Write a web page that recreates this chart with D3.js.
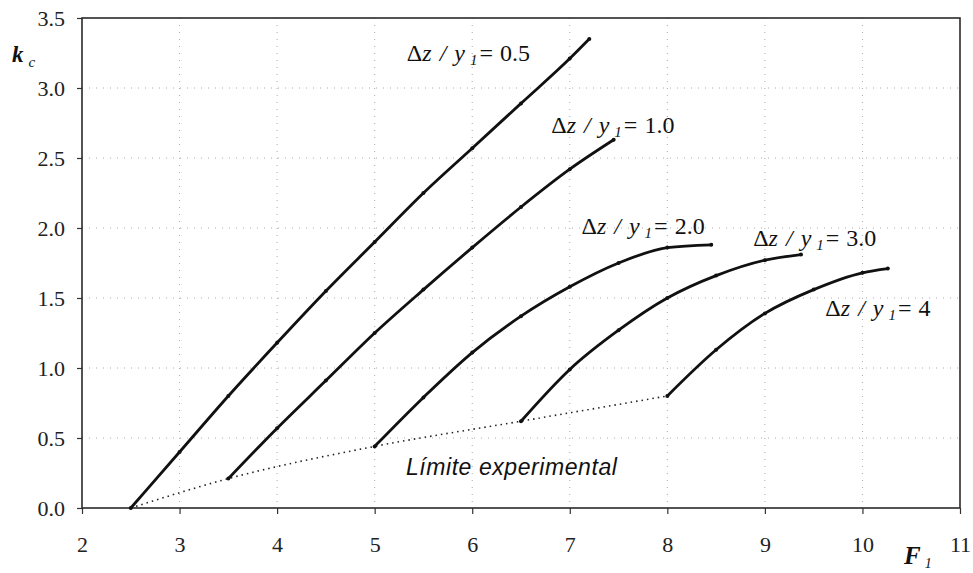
<!DOCTYPE html>
<html>
<head>
<meta charset="utf-8">
<script src="https://cdn.jsdelivr.net/npm/d3@7"></script>
<style>
  html, body { margin: 0; padding: 0; background: #fff; }
  svg { display: block; font-family: "Liberation Serif", "DejaVu Serif", serif; }
</style>
</head>
<body>
<div id="chart"></div>
<script>
// Curves k_c vs F_1 for each step height ratio Δz / y1
const curve05 = [[2.5, 0], [3, 0.4], [3.5, 0.8], [4, 1.18], [4.5, 1.55], [5, 1.9], [5.5, 2.25], [6, 2.57], [6.5, 2.89], [7, 3.21], [7.2, 3.35]];
const curve10 = [[3.5, 0.21], [4, 0.57], [4.5, 0.91], [5, 1.25], [5.5, 1.56], [6, 1.86], [6.5, 2.15], [7, 2.42], [7.45, 2.63]];
const curve20 = [[5, 0.44], [5.5, 0.79], [6, 1.11], [6.5, 1.37], [7, 1.58], [7.5, 1.75], [8, 1.86], [8.45, 1.88]];
const curve30 = [[6.5, 0.62], [7, 0.99], [7.5, 1.27], [8, 1.5], [8.5, 1.66], [9, 1.77], [9.37, 1.81]];
const curve40 = [[8, 0.8], [8.5, 1.13], [9, 1.39], [9.5, 1.56], [10, 1.68], [10.26, 1.71]];
const limite  = [[2.5, 0], [3.5, 0.21], [5, 0.44], [6.5, 0.62], [8, 0.8]];

const ratioLabels = ['0.5', '1.0', '2.0', '3.0', '4'];
const xTicks = [2, 3, 4, 5, 6, 7, 8, 9, 10, 11];
const yTicks = [0, 0.5, 1, 1.5, 2, 2.5, 3, 3.5];

(function () {
  const W = 973, H = 573;
  const margin = { top: 18, right: 13, bottom: 65, left: 82 };
  const w = W - margin.left - margin.right;
  const h = H - margin.top - margin.bottom;

  const svg = d3.select('#chart').append('svg')
    .attr('width', W).attr('height', H);
  const g = svg.append('g')
    .attr('transform', `translate(${margin.left},${margin.top})`);

  const x = d3.scaleLinear().domain([2, 11]).range([0, w]);
  const y = d3.scaleLinear().domain([0, 3.5]).range([h, 0]);

  // faint dotted grid
  g.append('g').selectAll('line').data(xTicks.slice(1, -1)).join('line')
    .attr('x1', d => x(d)).attr('x2', d => x(d))
    .attr('y1', 0).attr('y2', h)
    .attr('stroke', '#aaa').attr('stroke-width', 1)
    .attr('stroke-dasharray', '1,6');
  g.append('g').selectAll('line').data(yTicks.slice(1, -1)).join('line')
    .attr('x1', 0).attr('x2', w)
    .attr('y1', d => y(d)).attr('y2', d => y(d))
    .attr('stroke', '#aaa').attr('stroke-width', 1)
    .attr('stroke-dasharray', '1,6');

  // axes
  const xAxis = g.append('g')
    .attr('transform', `translate(0,${h})`)
    .call(d3.axisBottom(x).tickValues(xTicks).tickSize(6).tickPadding(22).tickFormat(d3.format('d')));
  const yAxis = g.append('g')
    .call(d3.axisLeft(y).tickValues(yTicks).tickSize(5).tickPadding(12).tickFormat(d3.format('.1f')));
  [xAxis, yAxis].forEach(a => {
    a.attr('font-family', null).attr('font-size', null);
    a.select('.domain').remove();
    a.selectAll('.tick line').attr('stroke', '#333').attr('stroke-width', 1.2);
    a.selectAll('text')
      .style('font-family', '"Liberation Serif", serif')
      .style('font-size', '22px').attr('fill', '#222');
  });

  // frame
  g.append('rect')
    .attr('x', 0).attr('y', 0).attr('width', w).attr('height', h)
    .attr('fill', 'none').attr('stroke', '#2a2a2a').attr('stroke-width', 1.6);

  const line = d3.line()
    .x(d => x(d[0])).y(d => y(d[1]))
    .curve(d3.curveMonotoneX);

  // experimental limit
  g.append('path').datum(limite)
    .attr('fill', 'none').attr('stroke', '#222')
    .attr('stroke-width', 1.6).attr('stroke-dasharray', '1.5,4')
    .attr('d', line);

  const curves = [curve05, curve10, curve20, curve30, curve40];
  curves.forEach(c => {
    g.append('path').datum(c)
      .attr('fill', 'none').attr('stroke', '#111')
      .attr('stroke-width', 2.8).attr('stroke-linecap', 'round')
      .attr('d', line);
    g.append('g').selectAll('circle').data(c).join('circle')
      .attr('cx', d => x(d[0])).attr('cy', d => y(d[1]))
      .attr('r', 2).attr('fill', '#111');
  });

  // curve labels (anchor in data space: left edge, baseline)
  const labelAt = [[5.33, 3.19], [6.81, 2.68], [7.12, 1.96], [8.88, 1.87], [9.62, 1.37]];
  ratioLabels.forEach((lab, i) => {
    const t = g.append('text')
      .attr('x', x(labelAt[i][0])).attr('y', y(labelAt[i][1]))
      .attr('font-size', '24px').attr('fill', '#111');
    t.append('tspan').text('Δ');
    t.append('tspan').attr('font-style', 'italic').text('z');
    t.append('tspan').attr('font-style', 'italic').attr('dx', 8).text('/');
    t.append('tspan').attr('font-style', 'italic').attr('dx', 8).text('y');
    t.append('tspan').attr('font-style', 'italic').attr('font-size', '15px')
      .attr('dy', 4).attr('dx', 5).text('1');
    t.append('tspan').attr('dy', -4).attr('dx', 2).text('=');
    t.append('tspan').attr('dx', 7).text(lab);
  });

  g.append('text')
    .attr('x', x(5.32)).attr('y', y(0.235))
    .attr('font-family', '"Liberation Sans", Arial, sans-serif')
    .attr('font-size', '23px').attr('font-style', 'italic').attr('fill', '#111')
    .attr('textLength', 211).attr('lengthAdjust', 'spacing')
    .text('Límite experimental');

  // axis titles
  const kt = svg.append('text').attr('x', 12).attr('y', 62)
    .attr('fill', '#111');
  kt.append('tspan').attr('font-size', '23px').attr('font-weight', 'bold')
    .attr('font-style', 'italic').text('k');
  kt.append('tspan').attr('font-size', '15px').attr('font-style', 'italic')
    .attr('dx', '5').attr('dy', '5').text('c');

  const ft = svg.append('text').attr('x', 904).attr('y', 564)
    .attr('fill', '#111');
  ft.append('tspan').attr('font-size', '25px').attr('font-weight', 'bold')
    .attr('font-style', 'italic').text('F');
  ft.append('tspan').attr('font-size', '14px').attr('font-style', 'italic')
    .attr('dx', '4').attr('dy', '4').text('1');
})();
</script>
</body>
</html>
